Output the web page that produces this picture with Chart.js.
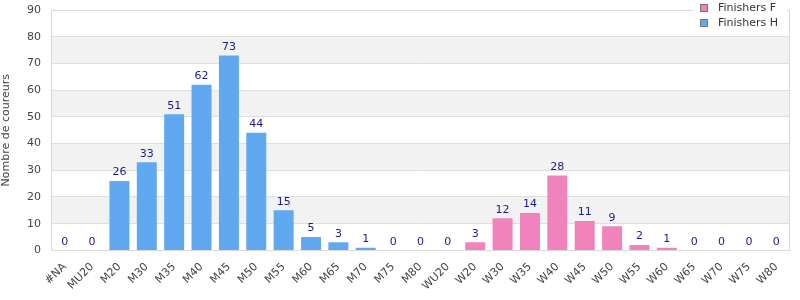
<!DOCTYPE html>
<html><head><meta charset="utf-8">
<script src="https://cdn.jsdelivr.net/npm/chart.js@4/dist/chart.umd.min.js"></script>
<style>html,body{margin:0;padding:0;background:#fff}#wrap{width:800px;height:300px}</style>
</head><body><div id="wrap"><canvas id="c" width="800" height="300"></canvas></div>
<script>
const categories = ["#NA","MU20","M20","M30","M35","M40","M45","M50","M55","M60","M65","M70","M75","M80","WU20","W20","W30","W35","W40","W45","W50","W55","W60","W65","W70","W75","W80"];
const finishersF = [0,0,0,0,0,0,0,0,0,0,0,0,0,0,0,3,12,14,28,11,9,2,1,0,0,0,0];
const finishersH = [0,0,26,33,51,62,73,44,15,5,3,1,0,0,0,0,0,0,0,0,0,0,0,0,0,0,0];
const yTicks = [0,10,20,30,40,50,60,70,80,90];
const seriesNames = ["Finishers F","Finishers H"];
const colF = "#f183bc", colH = "#60a9f1";
const FONT = "DejaVu Sans";

const bands = {
  id:'bands',
  beforeDraw(chart){
    const {ctx, chartArea:a, scales:{y}} = chart;
    ctx.save();
    ctx.fillStyle = '#f2f2f2';
    for (let v=10; v<90; v+=20){
      const t = y.getPixelForValue(v+10), b = y.getPixelForValue(v);
      ctx.fillRect(a.left, t, a.right-a.left, b-t);
    }
    ctx.restore();
  },
  afterDraw(chart){
    const {ctx, chartArea:a, scales:{x,y}} = chart;
    ctx.save();
    ctx.strokeStyle = '#d9d9d9'; ctx.lineWidth = 1;
    ctx.strokeRect(Math.round(a.left)+0.5, Math.round(a.top)+0.5, Math.round(a.right-a.left)-1, Math.round(a.bottom-a.top));
    ctx.font = '11px "'+FONT+'"';
    ctx.fillStyle = '#1a1a8c';
    ctx.textAlign = 'center'; ctx.textBaseline = 'bottom';
    categories.forEach((c,i)=>{
      const v = finishersF[i] + finishersH[i];
      ctx.fillText(String(v), x.getPixelForValue(i), y.getPixelForValue(v) - 3);
    });
    ctx.fillStyle = '#fff';
    ctx.fillRect(693, 0, 94, 33);
    const items = [[seriesNames[0], colF],[seriesNames[1], colH]];
    ctx.textAlign='left'; ctx.textBaseline='middle';
    items.forEach((it,k)=>{
      const yy = 8 + k*15;
      ctx.fillStyle = it[1];
      ctx.fillRect(700.5, yy-3.5, 7, 7);
      ctx.strokeStyle = '#777'; ctx.lineWidth=1;
      ctx.strokeRect(700.5, yy-3.5, 7, 7);
      ctx.fillStyle = '#333';
      ctx.fillText(it[0], 718, yy);
    });
    ctx.restore();
  }
};

new Chart(document.getElementById('c'), {
  type:'bar',
  data:{labels:categories, datasets:[
    {label:seriesNames[0], data:finishersF, backgroundColor:colF, categoryPercentage:1, barPercentage:0.73},
    {label:seriesNames[1], data:finishersH, backgroundColor:colH, categoryPercentage:1, barPercentage:0.73}
  ]},
  options:{
    responsive:false, animation:false, devicePixelRatio:1,
    layout:{padding:{top:10,right:10,left:0,bottom:5}},
    plugins:{legend:{display:false}, tooltip:{enabled:false}},
    scales:{
      x:{stacked:true, grid:{display:false}, border:{display:false},
         ticks:{color:'#444', font:{family:FONT,size:11}, maxRotation:45, minRotation:45, autoSkip:false, padding:2}},
      y:{stacked:true, min:0, max:90, afterBuildTicks(s){s.ticks = yTicks.map(v=>({value:v}));},
         afterFit(s){s.width = 51; s.paddingTop = 0; s.paddingBottom = 0;},
         grid:{color:'#dedede', drawTicks:false}, border:{display:false},
         ticks:{color:'#444', font:{family:FONT,size:11}, padding:10},
         title:{display:true, text:'Nombre de coureurs', color:'#444', font:{family:FONT,size:11}, padding:{top:0,bottom:6}}}
    }
  },
  plugins:[bands]
});
</script></body></html>
